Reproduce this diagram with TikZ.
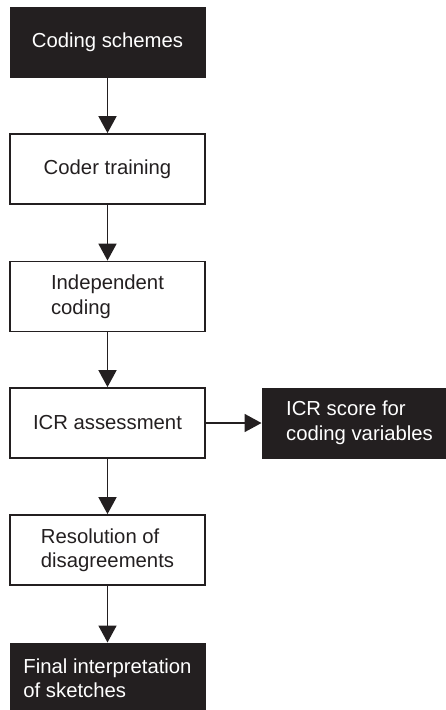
\documentclass[tikz,border=0pt]{standalone}
\usepackage{fontspec}
\setmainfont{Liberation Sans}
\usetikzlibrary{arrows.meta}
\definecolor{boxblack}{HTML}{231F20}
\begin{document}
\begin{tikzpicture}[x=1pt,y=-1pt,
  every node/.style={font=\fontsize{20.3}{24.5}\selectfont, align=left, inner sep=0pt},
  whitebox/.style={draw=boxblack, line width=1.8pt, fill=white, text=boxblack,
    minimum width=195pt, minimum height=70pt},
  blackbox/.style={draw=boxblack, line width=1pt, fill=boxblack, text=white,
    minimum width=195pt, minimum height=70pt},
  arr/.style={draw=boxblack, line width=1.8pt, -{Triangle[width=18pt,length=17pt]}}]
\useasboundingbox (0,0) rectangle (446,710);
\clip (0,0) rectangle (446,710);
\fill[white] (0,0) rectangle (446,710);
\node[blackbox] (b1) at (107.5,42) {Coding schemes};
\node[whitebox] (b2) at (107.5,169) {Coder training};
\node[whitebox] (b3) at (107.5,296.5) {Independent\\coding};
\node[whitebox] (b4) at (107.5,423) {ICR assessment};
\node[blackbox] (b5) at (359.5,423) {ICR score for\\coding variables};
\node[whitebox] (b6) at (107.5,550) {Resolution of\\disagreements};
\node[blackbox] (b7) at (107.5,678) {Final interpretation\\of sketches};
\draw[arr] (b1) -- (b2);
\draw[arr] (b2) -- (b3);
\draw[arr] (b3) -- (b4);
\draw[arr] (b4) -- (b5);
\draw[arr] (b4) -- (b6);
\draw[arr] (b6) -- (b7);
\end{tikzpicture}
\end{document}
